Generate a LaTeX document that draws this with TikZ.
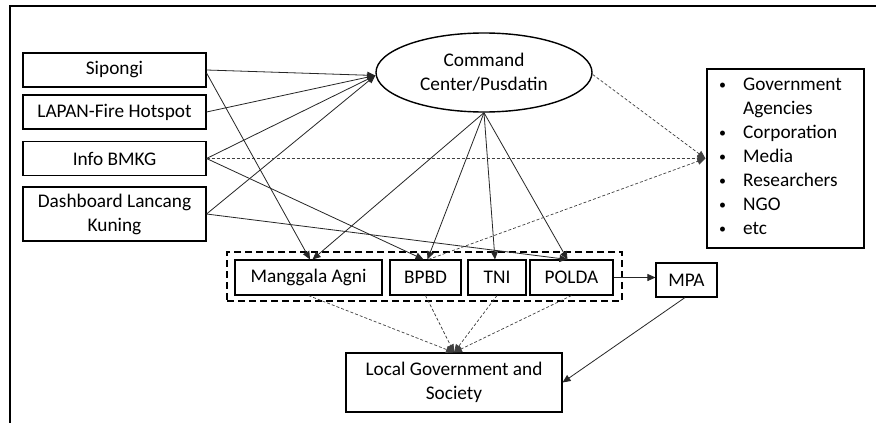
\documentclass[tikz,border=0pt]{standalone}
\usepackage{fontspec}
\setmainfont{Carlito}
\usetikzlibrary{arrows.meta,shapes.geometric}
\newcommand{\mybul}{\raisebox{1.5pt}{\fontsize{14}{14}\selectfont •}}
\begin{document}
\begin{tikzpicture}[x=1pt,y=-1pt,
  font=\fontsize{19.3}{24}\selectfont,
  box/.style={draw, line width=1.1pt, inner sep=0pt, align=center},
  src/.style={box, minimum width=183pt, minimum height=34pt},
  agency/.style={box, minimum height=35pt},
  arr/.style={line width=0.8pt, draw=black!85, -{Triangle[length=8pt,width=7pt]}},
  darr/.style={line width=0.7pt, draw=black!75, dash pattern=on 3pt off 2pt, -{Triangle[length=8pt,width=7pt]}}
]
\useasboundingbox (0,0) rectangle (876,423);
\fill[white] (0,0) rectangle (876,423);
\draw[line width=1.7pt] (10,423) -- (10,6) -- (876,6);

% sources
\node[src] (sip) at (114.5,70) {Sipongi};
\node[src] (lap) at (114.5,112) {LAPAN-Fire Hotspot};
\node[src] (bmkg) at (114.5,158.5) {Info BMKG};
\node[src, minimum height=54pt] (dash) at (114.5,214) {Dashboard Lancang\\Kuning};

% command center
\node[box, line width=1.4pt, ellipse, minimum width=216pt, minimum height=79pt] (cc) at (484,72.5) {Command\\Center/Pusdatin};

% audience box
\node[box, minimum width=157pt, minimum height=179pt] (aud) at (785.5,158.5) {};
\node[anchor=west, inner sep=0pt] (audtxt) at (719,158) {\begin{tabular}{@{}l@{\hspace{17pt}}l@{}}
\mybul & Government\\
  & Agencies\\
\mybul & Corporation\\
\mybul & Media\\
\mybul & Researchers\\
\mybul & NGO\\
\mybul & etc
\end{tabular}};

% agencies
\node[draw, line width=1.6pt, dash pattern=on 7pt off 4pt, minimum width=395pt, minimum height=49pt, inner sep=0pt] (grp) at (424.5,276.5) {};
\node[agency, minimum width=147pt] (mang) at (308.5,277.5) {Manggala Agni};
\node[agency, minimum width=71pt] (bpbd) at (425.5,277.5) {BPBD};
\node[agency, minimum width=58pt] (tni) at (497,277.5) {TNI};
\node[agency, minimum width=83pt] (polda) at (571.5,277.5) {POLDA};
\node[box, minimum width=61pt, minimum height=34pt] (mpa) at (686.5,280) {MPA};
\node[box, minimum width=216pt, minimum height=59pt] (lg) at (454,382.5) {Local Government and\\Society};

% sources to command center
\draw[arr] (sip.east) -- ([yshift=-3pt]cc.west);
\draw[arr] (lap.east) -- ([yshift=-3pt]cc.west);
\draw[arr] (bmkg.east) -- ([yshift=-3pt]cc.west);
\draw[arr] (dash.east) -- ([yshift=-3pt]cc.west);

% sources to agencies
\draw[arr] ([yshift=-3pt]sip.east) -- ([xshift=1.5pt]mang.north);
\draw[arr] (bmkg.east) -- ([xshift=-2pt]bpbd.north);
\draw[arr] (dash.east) -- ([xshift=-4pt]polda.north);

% command center to agencies
\draw[arr] (cc.south) -- ([xshift=4pt]mang.north);
\draw[arr] (cc.south) -- ([xshift=2pt]bpbd.north);
\draw[arr] (cc.south) -- ([xshift=-2pt]tni.north);
\draw[arr] (cc.south) -- ([xshift=-4pt]polda.north);

% dashed to audience
\draw[darr] (bmkg.east) -- ([xshift=-1pt]aud.west);
\draw[darr] ([yshift=-2pt]cc.east) -- ([xshift=-1pt]aud.west);
\draw[darr] ([xshift=3pt]bpbd.north) -- ([xshift=-1pt]aud.west);

% POLDA to MPA, MPA to local government
\draw[arr] (polda.east) -- (polda.east -| mpa.west);
\draw[arr] ([xshift=-1.5pt]mpa.south) -- (lg.east);

% agencies to local government
\draw[darr] (mang.south) -- (lg.north);
\draw[darr] (bpbd.south) -- (lg.north);
\draw[darr] (tni.south) -- (lg.north);
\draw[darr] (polda.south) -- (lg.north);
\end{tikzpicture}
\end{document}
